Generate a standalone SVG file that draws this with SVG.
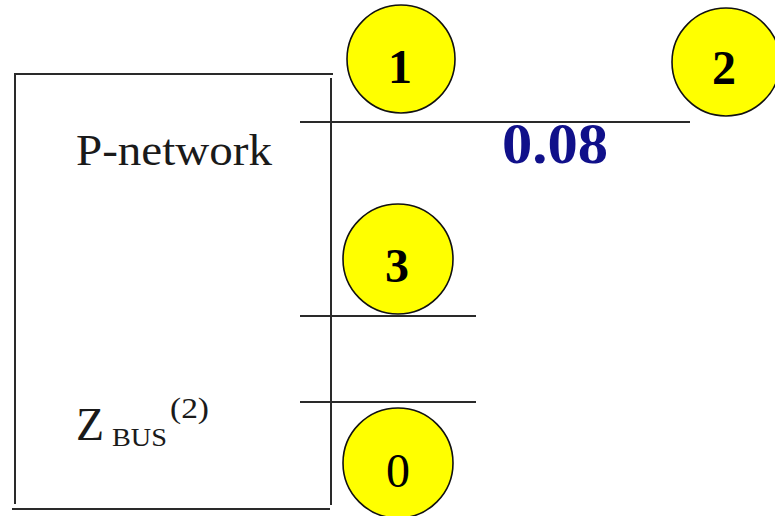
<svg xmlns="http://www.w3.org/2000/svg" width="775" height="516" viewBox="0 0 775 516">
  <style>
    .ln { stroke: #2a2a2a; stroke-width: 2; fill: none; }
    .bus { fill: #ffff00; stroke: #111; stroke-width: 1.6; }
    .num { font-family: "Liberation Serif", "Times New Roman", serif; font-size: 48px; fill: #000; text-anchor: middle; }
    .b { font-weight: bold; }
    .lbl { font-family: "Liberation Serif", "Times New Roman", serif; fill: #1a1a1a; }
  </style>
  <rect width="775" height="516" fill="#fff"/>
  <g id="p-network">
    <line class="ln" x1="14" y1="74" x2="333" y2="74"/>
    <line class="ln" x1="15" y1="74" x2="15" y2="504"/>
    <line class="ln" x1="331" y1="78" x2="331" y2="505"/>
    <line class="ln" x1="12" y1="509" x2="330" y2="509"/>
    <text class="lbl" x="76" y="165" font-size="45" textLength="196" lengthAdjust="spacingAndGlyphs">P-network</text>
    <text class="lbl" x="76" y="440" font-size="46">Z<tspan x="112" y="446" font-size="25" textLength="55" lengthAdjust="spacingAndGlyphs">BUS</tspan><tspan x="170" y="418" font-size="30" textLength="39" lengthAdjust="spacingAndGlyphs">(2)</tspan></text>
  </g>
  <g id="connectors">
    <line class="ln" x1="300" y1="122" x2="690" y2="122"/>
    <line class="ln" x1="300" y1="316" x2="476" y2="316"/>
    <line class="ln" x1="300" y1="402" x2="476" y2="402"/>
    <text x="502" y="163" font-family="Liberation Serif, Times New Roman, serif" font-weight="bold" font-size="58" fill="#10108a" textLength="106" lengthAdjust="spacingAndGlyphs">0.08</text>
  </g>
  <g id="node-1">
    <circle class="bus" cx="401" cy="59" r="54"/>
    <text class="num b" x="400" y="83">1</text>
  </g>
  <g id="node-2">
    <circle class="bus" cx="726" cy="62" r="54"/>
    <text class="num b" x="724" y="84">2</text>
  </g>
  <g id="node-3">
    <circle class="bus" cx="398" cy="259" r="55"/>
    <text class="num b" x="397" y="282">3</text>
  </g>
  <g id="node-0">
    <circle class="bus" cx="398" cy="463" r="55"/>
    <text class="num" x="398" y="487">0</text>
  </g>
</svg>
